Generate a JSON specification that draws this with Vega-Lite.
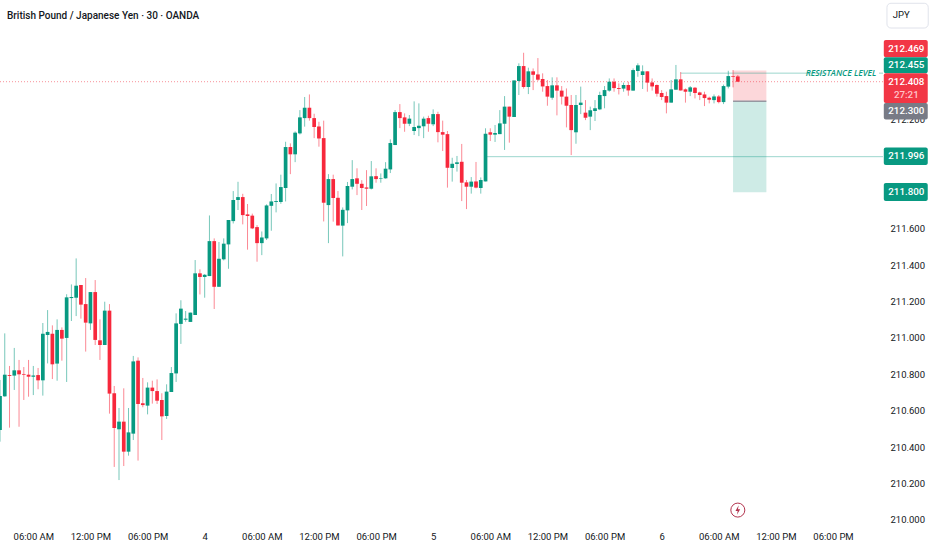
{
  "$schema": "https://vega.github.io/schema/vega-lite/v6.json",
  "width": 883,
  "height": 523,
  "padding": {"left": 0, "top": 0, "right": 49, "bottom": 27},
  "autosize": "none",
  "background": "#ffffff",
  "view": {"stroke": null},
  "datasets": {
    "candles": [
      {"t":"2026-02-03T02:30:00Z","o":210.494,"h":210.769,"l":210.430,"c":210.681},
      {"t":"2026-02-03T03:00:00Z","o":210.679,"h":211.025,"l":210.677,"c":210.798},
      {"t":"2026-02-03T03:30:00Z","o":210.796,"h":210.846,"l":210.507,"c":210.791},
      {"t":"2026-02-03T04:00:00Z","o":210.793,"h":210.945,"l":210.714,"c":210.822},
      {"t":"2026-02-03T04:30:00Z","o":210.822,"h":210.879,"l":210.512,"c":210.800},
      {"t":"2026-02-03T05:00:00Z","o":210.802,"h":210.840,"l":210.659,"c":210.798},
      {"t":"2026-02-03T05:30:00Z","o":210.798,"h":210.879,"l":210.677,"c":210.787},
      {"t":"2026-02-03T06:00:00Z","o":210.787,"h":210.846,"l":210.686,"c":210.794},
      {"t":"2026-02-03T06:30:00Z","o":210.796,"h":210.835,"l":210.718,"c":210.767},
      {"t":"2026-02-03T07:00:00Z","o":210.767,"h":211.082,"l":210.683,"c":211.023},
      {"t":"2026-02-03T07:30:00Z","o":211.016,"h":211.153,"l":210.860,"c":211.033},
      {"t":"2026-02-03T08:00:00Z","o":211.023,"h":211.069,"l":210.774,"c":210.855},
      {"t":"2026-02-03T08:30:00Z","o":210.859,"h":211.102,"l":210.765,"c":211.044},
      {"t":"2026-02-03T09:00:00Z","o":211.044,"h":211.058,"l":210.875,"c":210.996},
      {"t":"2026-02-03T09:30:00Z","o":211.000,"h":211.240,"l":210.758,"c":211.223},
      {"t":"2026-02-03T10:00:00Z","o":211.219,"h":211.294,"l":211.093,"c":211.225},
      {"t":"2026-02-03T10:30:00Z","o":211.221,"h":211.437,"l":211.120,"c":211.287},
      {"t":"2026-02-03T11:00:00Z","o":211.291,"h":211.291,"l":211.106,"c":211.183},
      {"t":"2026-02-03T11:30:00Z","o":211.186,"h":211.329,"l":210.925,"c":211.084},
      {"t":"2026-02-03T12:00:00Z","o":211.080,"h":211.252,"l":211.044,"c":211.252},
      {"t":"2026-02-03T12:30:00Z","o":211.252,"h":211.318,"l":210.961,"c":210.989},
      {"t":"2026-02-03T13:00:00Z","o":210.987,"h":211.102,"l":210.879,"c":210.961},
      {"t":"2026-02-03T13:30:00Z","o":210.961,"h":211.199,"l":210.961,"c":211.150},
      {"t":"2026-02-03T14:00:00Z","o":211.150,"h":211.186,"l":210.584,"c":210.694},
      {"t":"2026-02-03T14:30:00Z","o":210.696,"h":210.736,"l":210.291,"c":210.505},
      {"t":"2026-02-03T15:00:00Z","o":210.498,"h":210.615,"l":210.219,"c":210.540},
      {"t":"2026-02-03T15:30:00Z","o":210.540,"h":210.723,"l":210.296,"c":210.375},
      {"t":"2026-02-03T16:00:00Z","o":210.375,"h":210.615,"l":210.353,"c":210.481},
      {"t":"2026-02-03T16:30:00Z","o":210.474,"h":210.901,"l":210.439,"c":210.871},
      {"t":"2026-02-03T17:00:00Z","o":210.875,"h":210.893,"l":210.326,"c":210.637},
      {"t":"2026-02-03T17:30:00Z","o":210.641,"h":210.780,"l":210.619,"c":210.631},
      {"t":"2026-02-03T18:00:00Z","o":210.628,"h":210.756,"l":210.580,"c":210.727},
      {"t":"2026-02-03T18:30:00Z","o":210.727,"h":210.765,"l":210.639,"c":210.708},
      {"t":"2026-02-03T19:00:00Z","o":210.708,"h":210.772,"l":210.637,"c":210.655},
      {"t":"2026-02-03T19:30:00Z","o":210.659,"h":210.696,"l":210.439,"c":210.569},
      {"t":"2026-02-03T20:00:00Z","o":210.571,"h":210.745,"l":210.555,"c":210.705},
      {"t":"2026-02-03T20:30:00Z","o":210.703,"h":210.840,"l":210.703,"c":210.807},
      {"t":"2026-02-03T21:00:00Z","o":210.805,"h":211.135,"l":210.758,"c":211.080},
      {"t":"2026-02-03T21:30:00Z","o":211.077,"h":211.207,"l":210.967,"c":211.161},
      {"t":"2026-02-03T22:00:00Z","o":211.100,"h":211.148,"l":211.089,"c":211.106},
      {"t":"2026-02-03T22:30:00Z","o":211.088,"h":211.139,"l":211.088,"c":211.139},
      {"t":"2026-02-03T23:00:00Z","o":211.126,"h":211.428,"l":211.126,"c":211.355},
      {"t":"2026-02-03T23:30:00Z","o":211.355,"h":211.377,"l":211.239,"c":211.335},
      {"t":"2026-02-04T00:00:00Z","o":211.335,"h":211.351,"l":211.221,"c":211.347},
      {"t":"2026-02-04T00:30:00Z","o":211.340,"h":211.673,"l":211.340,"c":211.532},
      {"t":"2026-02-04T01:00:00Z","o":211.532,"h":211.547,"l":211.159,"c":211.281},
      {"t":"2026-02-04T01:30:00Z","o":211.281,"h":211.527,"l":211.281,"c":211.435},
      {"t":"2026-02-04T02:00:00Z","o":211.432,"h":211.547,"l":211.426,"c":211.518},
      {"t":"2026-02-04T02:30:00Z","o":211.514,"h":211.648,"l":211.380,"c":211.648},
      {"t":"2026-02-04T03:00:00Z","o":211.642,"h":211.807,"l":211.629,"c":211.758},
      {"t":"2026-02-04T03:30:00Z","o":211.758,"h":211.858,"l":211.703,"c":211.774},
      {"t":"2026-02-04T04:00:00Z","o":211.774,"h":211.792,"l":211.624,"c":211.675},
      {"t":"2026-02-04T04:30:00Z","o":211.679,"h":211.736,"l":211.485,"c":211.670},
      {"t":"2026-02-04T05:00:00Z","o":211.672,"h":211.683,"l":211.598,"c":211.602},
      {"t":"2026-02-04T05:30:00Z","o":211.609,"h":211.620,"l":211.419,"c":211.521},
      {"t":"2026-02-04T06:00:00Z","o":211.521,"h":211.585,"l":211.455,"c":211.552},
      {"t":"2026-02-04T06:30:00Z","o":211.547,"h":211.734,"l":211.538,"c":211.728},
      {"t":"2026-02-04T07:00:00Z","o":211.726,"h":211.791,"l":211.589,"c":211.750},
      {"t":"2026-02-04T07:30:00Z","o":211.747,"h":211.849,"l":211.690,"c":211.752},
      {"t":"2026-02-04T08:00:00Z","o":211.747,"h":211.897,"l":211.737,"c":211.829},
      {"t":"2026-02-04T08:30:00Z","o":211.824,"h":212.078,"l":211.750,"c":212.049},
      {"t":"2026-02-04T09:00:00Z","o":212.049,"h":212.069,"l":211.900,"c":212.009},
      {"t":"2026-02-04T09:30:00Z","o":212.009,"h":212.135,"l":211.966,"c":212.128},
      {"t":"2026-02-04T10:00:00Z","o":212.124,"h":212.252,"l":212.118,"c":212.212},
      {"t":"2026-02-04T10:30:00Z","o":212.208,"h":212.324,"l":212.161,"c":212.265},
      {"t":"2026-02-04T11:00:00Z","o":212.265,"h":212.338,"l":212.194,"c":212.208},
      {"t":"2026-02-04T11:30:00Z","o":212.208,"h":212.232,"l":212.098,"c":212.159},
      {"t":"2026-02-04T12:00:00Z","o":212.162,"h":212.188,"l":212.051,"c":212.096},
      {"t":"2026-02-04T12:30:00Z","o":212.098,"h":212.194,"l":211.640,"c":211.743},
      {"t":"2026-02-04T13:00:00Z","o":211.730,"h":211.900,"l":211.521,"c":211.873},
      {"t":"2026-02-04T13:30:00Z","o":211.873,"h":211.897,"l":211.639,"c":211.769},
      {"t":"2026-02-04T14:00:00Z","o":211.770,"h":211.807,"l":211.618,"c":211.618},
      {"t":"2026-02-04T14:30:00Z","o":211.617,"h":211.717,"l":211.448,"c":211.704},
      {"t":"2026-02-04T15:00:00Z","o":211.701,"h":211.857,"l":211.631,"c":211.835},
      {"t":"2026-02-04T15:30:00Z","o":211.831,"h":211.977,"l":211.816,"c":211.873},
      {"t":"2026-02-04T16:00:00Z","o":211.877,"h":211.932,"l":211.785,"c":211.847},
      {"t":"2026-02-04T16:30:00Z","o":211.847,"h":211.867,"l":211.703,"c":211.824},
      {"t":"2026-02-04T17:00:00Z","o":211.827,"h":211.922,"l":211.725,"c":211.820},
      {"t":"2026-02-04T17:30:00Z","o":211.820,"h":211.972,"l":211.816,"c":211.888},
      {"t":"2026-02-04T18:00:00Z","o":211.889,"h":211.932,"l":211.853,"c":211.873},
      {"t":"2026-02-04T18:30:00Z","o":211.875,"h":211.904,"l":211.853,"c":211.878},
      {"t":"2026-02-04T19:00:00Z","o":211.877,"h":211.966,"l":211.875,"c":211.930},
      {"t":"2026-02-04T19:30:00Z","o":211.926,"h":212.091,"l":211.906,"c":212.071},
      {"t":"2026-02-04T20:00:00Z","o":212.060,"h":212.252,"l":212.060,"c":212.241},
      {"t":"2026-02-04T20:30:00Z","o":212.241,"h":212.285,"l":212.153,"c":212.208},
      {"t":"2026-02-04T21:00:00Z","o":212.212,"h":212.234,"l":212.133,"c":212.177},
      {"t":"2026-02-04T21:30:00Z","o":212.177,"h":212.225,"l":212.164,"c":212.205},
      {"t":"2026-02-04T22:00:00Z","o":212.137,"h":212.300,"l":212.115,"c":212.159},
      {"t":"2026-02-04T22:30:00Z","o":212.153,"h":212.289,"l":212.109,"c":212.166},
      {"t":"2026-02-04T23:00:00Z","o":212.163,"h":212.216,"l":212.098,"c":212.205},
      {"t":"2026-02-04T23:30:00Z","o":212.208,"h":212.221,"l":212.133,"c":212.177},
      {"t":"2026-02-05T00:00:00Z","o":212.174,"h":212.256,"l":212.164,"c":212.230},
      {"t":"2026-02-05T00:30:00Z","o":212.230,"h":212.243,"l":212.075,"c":212.131},
      {"t":"2026-02-05T01:00:00Z","o":212.131,"h":212.194,"l":212.027,"c":212.117},
      {"t":"2026-02-05T01:30:00Z","o":212.120,"h":212.137,"l":211.826,"c":211.935},
      {"t":"2026-02-05T02:00:00Z","o":211.934,"h":211.990,"l":211.859,"c":211.957},
      {"t":"2026-02-05T02:30:00Z","o":211.956,"h":212.000,"l":211.914,"c":211.965},
      {"t":"2026-02-05T03:00:00Z","o":211.968,"h":212.066,"l":211.752,"c":211.853},
      {"t":"2026-02-05T03:30:00Z","o":211.855,"h":211.868,"l":211.708,"c":211.831},
      {"t":"2026-02-05T04:00:00Z","o":211.831,"h":211.884,"l":211.793,"c":211.859},
      {"t":"2026-02-05T04:30:00Z","o":211.860,"h":211.967,"l":211.822,"c":211.826},
      {"t":"2026-02-05T05:00:00Z","o":211.824,"h":211.882,"l":211.793,"c":211.868},
      {"t":"2026-02-05T05:30:00Z","o":211.860,"h":212.152,"l":211.860,"c":212.122},
      {"t":"2026-02-05T06:00:00Z","o":212.130,"h":212.152,"l":212.082,"c":212.117},
      {"t":"2026-02-05T06:30:00Z","o":212.117,"h":212.170,"l":212.077,"c":212.126},
      {"t":"2026-02-05T07:00:00Z","o":212.120,"h":212.252,"l":212.120,"c":212.179},
      {"t":"2026-02-05T07:30:00Z","o":212.177,"h":212.329,"l":212.033,"c":212.271},
      {"t":"2026-02-05T08:00:00Z","o":212.271,"h":212.271,"l":212.073,"c":212.216},
      {"t":"2026-02-05T08:30:00Z","o":212.214,"h":212.415,"l":212.214,"c":212.415},
      {"t":"2026-02-05T09:00:00Z","o":212.412,"h":212.509,"l":212.335,"c":212.494},
      {"t":"2026-02-05T09:30:00Z","o":212.494,"h":212.567,"l":212.370,"c":212.379},
      {"t":"2026-02-05T10:00:00Z","o":212.379,"h":212.485,"l":212.340,"c":212.465},
      {"t":"2026-02-05T10:30:00Z","o":212.465,"h":212.481,"l":212.362,"c":212.446},
      {"t":"2026-02-05T11:00:00Z","o":212.448,"h":212.538,"l":212.412,"c":212.419},
      {"t":"2026-02-05T11:30:00Z","o":212.423,"h":212.454,"l":212.353,"c":212.382},
      {"t":"2026-02-05T12:00:00Z","o":212.384,"h":212.417,"l":212.276,"c":212.326},
      {"t":"2026-02-05T12:30:00Z","o":212.320,"h":212.432,"l":212.309,"c":212.388},
      {"t":"2026-02-05T13:00:00Z","o":212.388,"h":212.432,"l":212.223,"c":212.359},
      {"t":"2026-02-05T13:30:00Z","o":212.359,"h":212.384,"l":212.283,"c":212.326},
      {"t":"2026-02-05T14:00:00Z","o":212.326,"h":212.371,"l":212.157,"c":212.276},
      {"t":"2026-02-05T14:30:00Z","o":212.280,"h":212.335,"l":212.005,"c":212.142},
      {"t":"2026-02-05T15:00:00Z","o":212.130,"h":212.335,"l":212.067,"c":212.280},
      {"t":"2026-02-05T15:30:00Z","o":212.280,"h":212.381,"l":212.230,"c":212.293},
      {"t":"2026-02-05T16:00:00Z","o":212.238,"h":212.307,"l":212.197,"c":212.210},
      {"t":"2026-02-05T16:30:00Z","o":212.216,"h":212.271,"l":212.142,"c":212.251},
      {"t":"2026-02-05T17:00:00Z","o":212.247,"h":212.307,"l":212.192,"c":212.262},
      {"t":"2026-02-05T17:30:00Z","o":212.256,"h":212.353,"l":212.252,"c":212.335},
      {"t":"2026-02-05T18:00:00Z","o":212.329,"h":212.384,"l":212.262,"c":212.362},
      {"t":"2026-02-05T18:30:00Z","o":212.359,"h":212.426,"l":212.353,"c":212.408},
      {"t":"2026-02-05T19:00:00Z","o":212.408,"h":212.426,"l":212.353,"c":212.373},
      {"t":"2026-02-05T19:30:00Z","o":212.373,"h":212.399,"l":212.338,"c":212.368},
      {"t":"2026-02-05T20:00:00Z","o":212.370,"h":212.403,"l":212.353,"c":212.390},
      {"t":"2026-02-05T20:30:00Z","o":212.390,"h":212.408,"l":212.331,"c":212.360},
      {"t":"2026-02-05T21:00:00Z","o":212.359,"h":212.481,"l":212.359,"c":212.472},
      {"t":"2026-02-05T21:30:00Z","o":212.467,"h":212.509,"l":212.435,"c":212.498},
      {"t":"2026-02-05T22:00:00Z","o":212.445,"h":212.498,"l":212.368,"c":212.465},
      {"t":"2026-02-05T22:30:00Z","o":212.465,"h":212.465,"l":212.353,"c":212.403},
      {"t":"2026-02-05T23:00:00Z","o":212.404,"h":212.426,"l":212.359,"c":212.382},
      {"t":"2026-02-05T23:30:00Z","o":212.390,"h":212.393,"l":212.326,"c":212.342},
      {"t":"2026-02-06T00:00:00Z","o":212.346,"h":212.362,"l":212.307,"c":212.324},
      {"t":"2026-02-06T00:30:00Z","o":212.329,"h":212.353,"l":212.234,"c":212.293},
      {"t":"2026-02-06T01:00:00Z","o":212.293,"h":212.417,"l":212.293,"c":212.366},
      {"t":"2026-02-06T01:30:00Z","o":212.364,"h":212.500,"l":212.364,"c":212.421},
      {"t":"2026-02-06T02:00:00Z","o":212.421,"h":212.461,"l":212.359,"c":212.360},
      {"t":"2026-02-06T02:30:00Z","o":212.366,"h":212.371,"l":212.293,"c":212.353},
      {"t":"2026-02-06T03:00:00Z","o":212.353,"h":212.384,"l":212.329,"c":212.377},
      {"t":"2026-02-06T03:30:00Z","o":212.375,"h":212.379,"l":212.316,"c":212.346},
      {"t":"2026-02-06T04:00:00Z","o":212.349,"h":212.353,"l":212.307,"c":212.335},
      {"t":"2026-02-06T04:30:00Z","o":212.338,"h":212.353,"l":212.274,"c":212.318},
      {"t":"2026-02-06T05:00:00Z","o":212.320,"h":212.326,"l":212.289,"c":212.309},
      {"t":"2026-02-06T05:30:00Z","o":212.307,"h":212.338,"l":212.289,"c":212.327},
      {"t":"2026-02-06T06:00:00Z","o":212.327,"h":212.335,"l":212.289,"c":212.296},
      {"t":"2026-02-06T06:30:00Z","o":212.296,"h":212.392,"l":212.285,"c":212.384},
      {"t":"2026-02-06T07:00:00Z","o":212.381,"h":212.468,"l":212.371,"c":212.439},
      {"t":"2026-02-06T07:30:00Z","o":212.439,"h":212.472,"l":212.377,"c":212.435},
      {"t":"2026-02-06T08:00:00Z","o":212.437,"h":212.445,"l":212.408,"c":212.408}
    ],
    "levels": [
      {"name":"last","from":"2026-02-03T02:30:00Z","to":"2026-02-06T23:15:00Z","price":212.408},
      {"name":"support","from":"2026-02-05T05:30:00Z","to":"2026-02-06T23:15:00Z","price":211.996},
      {"name":"resistance","from":"2026-02-06T02:00:00Z","to":"2026-02-06T17:20:00Z","price":212.455},
      {"name":"resistance","from":"2026-02-06T22:50:00Z","to":"2026-02-06T23:15:00Z","price":212.455}
    ],
    "position": [
      {"side":"stop","from":"2026-02-06T07:30:00Z","to":"2026-02-06T11:00:00Z","top":212.469,"bottom":212.3},
      {"side":"target","from":"2026-02-06T07:30:00Z","to":"2026-02-06T11:00:00Z","top":212.3,"bottom":211.8}
    ],
    "tags": [
      {"kind":"sell","top":212.637,"bottom":212.542},
      {"kind":"buy","top":212.542,"bottom":212.455},
      {"kind":"sell","top":212.455,"bottom":212.291},
      {"kind":"neutral","top":212.291,"bottom":212.2},
      {"kind":"buy","top":212.046,"bottom":211.95},
      {"kind":"buy","top":211.851,"bottom":211.752}
    ],
    "tagtexts": [
      {"label":"212.469","price":212.59},
      {"label":"212.455","price":212.499},
      {"label":"212.408","price":212.409},
      {"label":"27:21","price":212.335},
      {"label":"212.300","price":212.247},
      {"label":"211.996","price":211.999},
      {"label":"211.800","price":211.802}
    ]
  },
  "layer": [
    {
      "data": {"name": "position"},
      "mark": {"type": "rect", "opacity": 0.2},
      "encoding": {
        "x": {"field": "from", "type": "temporal", "title": null},
        "x2": {"field": "to"},
        "y": {"field": "top", "type": "quantitative", "title": null},
        "y2": {"field": "bottom"},
        "color": {
          "field": "side",
          "type": "nominal",
          "scale": {"domain": ["stop", "target", "sell", "buy", "neutral"], "range": ["#f23645", "#089981", "#f23645", "#089981", "#787b86"]},
          "legend": null
        }
      }
    },
    {
      "data": {"values": [{"from":"2026-02-06T07:30:00Z","to":"2026-02-06T11:00:00Z","price":212.3}]},
      "mark": {"type": "rule", "color": "#9598a1", "strokeWidth": 1.5},
      "encoding": {
        "x": {"field": "from", "type": "temporal", "title": null},
        "x2": {"field": "to"},
        "y": {"field": "price", "type": "quantitative", "title": null}
      }
    },
    {
      "data": {"name": "levels"},
      "transform": [{"filter": "datum.name == 'last'"}],
      "mark": {"type": "rule", "color": "#f23645", "opacity": 0.55, "strokeWidth": 1, "strokeDash": [1, 2]},
      "encoding": {
        "x": {"field": "from", "type": "temporal", "title": null},
        "x2": {"field": "to"},
        "y": {"field": "price", "type": "quantitative", "title": null}
      }
    },
    {
      "data": {"name": "levels"},
      "transform": [{"filter": "datum.name != 'last'"}],
      "mark": {"type": "rule", "color": "#089981", "opacity": 0.4, "strokeWidth": 1},
      "encoding": {
        "x": {"field": "from", "type": "temporal", "title": null},
        "x2": {"field": "to"},
        "y": {"field": "price", "type": "quantitative", "title": null}
      }
    },
    {
      "data": {"name": "candles"},
      "mark": {"type": "rule", "strokeWidth": 1, "opacity": 0.55},
      "encoding": {
        "x": {
          "field": "t",
          "type": "temporal",
          "title": null,
          "scale": {"type": "utc", "domain": ["2026-02-03T02:30:00Z", "2026-02-06T23:15:00Z"], "nice": false, "padding": 0},
          "axis": {
            "values": [
              {"year":2026,"month":2,"date":3,"hours":6,"utc":true},
              {"year":2026,"month":2,"date":3,"hours":12,"utc":true},
              {"year":2026,"month":2,"date":3,"hours":18,"utc":true},
              {"year":2026,"month":2,"date":4,"hours":0,"utc":true},
              {"year":2026,"month":2,"date":4,"hours":6,"utc":true},
              {"year":2026,"month":2,"date":4,"hours":12,"utc":true},
              {"year":2026,"month":2,"date":4,"hours":18,"utc":true},
              {"year":2026,"month":2,"date":5,"hours":0,"utc":true},
              {"year":2026,"month":2,"date":5,"hours":6,"utc":true},
              {"year":2026,"month":2,"date":5,"hours":12,"utc":true},
              {"year":2026,"month":2,"date":5,"hours":18,"utc":true},
              {"year":2026,"month":2,"date":6,"hours":0,"utc":true},
              {"year":2026,"month":2,"date":6,"hours":6,"utc":true},
              {"year":2026,"month":2,"date":6,"hours":12,"utc":true},
              {"year":2026,"month":2,"date":6,"hours":18,"utc":true}
            ],
            "labelExpr": "utchours(datum.value) == 0 ? utcdate(datum.value) : utcFormat(datum.value, '%I:%M %p')",
            "labelOverlap": false,
            "labelFlush": false,
            "domain": false,
            "ticks": false,
            "grid": false,
            "labelFont": "Roboto",
            "labelFontSize": 9.5,
            "labelColor": "#131722",
            "labelPadding": 8
          }
        },
        "y": {
          "field": "h",
          "type": "quantitative",
          "title": null,
          "scale": {"domain": [209.983, 212.857], "nice": false, "zero": false},
          "axis": {
            "orient": "right",
            "values": [210, 210.2, 210.4, 210.6, 210.8, 211, 211.2, 211.4, 211.6, 212.2],
            "format": ".3f",
            "labelOverlap": false,
            "labelFlush": false,
            "domain": false,
            "ticks": false,
            "grid": false,
            "labelFont": "Roboto",
            "labelFontSize": 9.5,
            "labelColor": "#131722",
            "labelPadding": 7
          }
        },
        "y2": {"field": "l"},
        "color": {"condition": {"test": "datum.c >= datum.o", "value": "#089981"}, "value": "#f7283c"}
      }
    },
    {
      "data": {"name": "candles"},
      "mark": {"type": "bar", "size": 3.7},
      "encoding": {
        "x": {"field": "t", "type": "temporal", "title": null},
        "y": {"field": "o", "type": "quantitative", "title": null},
        "y2": {"field": "c"},
        "color": {"condition": {"test": "datum.c >= datum.o", "value": "#089981"}, "value": "#f7283c"}
      }
    },
    {
      "data": {"values": [{"label":"RESISTANCE LEVEL","t":"2026-02-06T18:50:00Z","price":212.455}]},
      "mark": {"type": "text", "font": "Open Sans", "fontSize": 8.5, "fontStyle": "italic", "fontWeight": 600, "color": "#089981", "align": "center", "baseline": "middle"},
      "encoding": {
        "x": {"field": "t", "type": "temporal", "title": null},
        "y": {"field": "price", "type": "quantitative", "title": null},
        "text": {"field": "label"}
      }
    },
    {
      "data": {"values": [{"label":"British Pound / Japanese Yen · 30 · OANDA","t":"2026-02-03T03:14:00Z","price":212.769}]},
      "mark": {"type": "text", "font": "Roboto", "fontSize": 10, "fontWeight": 500, "color": "#131722", "align": "left", "baseline": "middle"},
      "encoding": {
        "x": {"field": "t", "type": "temporal", "title": null},
        "y": {"field": "price", "type": "quantitative", "title": null},
        "text": {"field": "label"}
      }
    },
    {
      "data": {"values": [{"from":"2026-02-06T23:15:00Z","to":"2026-02-07T04:20:00Z","top":209.983,"bottom":209.88}]},
      "mark": {"type": "rect", "color": "#ffffff"},
      "encoding": {
        "x": {"field": "from", "type": "temporal", "title": null},
        "x2": {"field": "to"},
        "y": {"field": "top", "type": "quantitative", "title": null},
        "y2": {"field": "bottom"}
      }
    },
    {
      "data": {"name": "tags"},
      "mark": {"type": "rect", "cornerRadius": 2},
      "encoding": {
        "x": {"datum": {"year": 2026, "month": 2, "date": 6, "hours": 23, "minutes": 20, "utc": true}, "type": "temporal", "title": null},
        "x2": {"datum": {"year": 2026, "month": 2, "date": 7, "hours": 3, "minutes": 57, "utc": true}},
        "y": {"field": "top", "type": "quantitative", "title": null},
        "y2": {"field": "bottom"},
        "color": {
          "field": "kind",
          "type": "nominal",
          "scale": {"domain": ["stop", "target", "sell", "buy", "neutral"], "range": ["#f23645", "#089981", "#f23645", "#089981", "#787b86"]},
          "legend": null
        }
      }
    },
    {
      "data": {"name": "tagtexts"},
      "mark": {"type": "text", "font": "Roboto", "fontSize": 9.8, "fontWeight": 500, "align": "center", "baseline": "middle"},
      "encoding": {
        "x": {"datum": {"year": 2026, "month": 2, "date": 7, "hours": 1, "minutes": 42, "utc": true}, "type": "temporal", "title": null},
        "y": {"field": "price", "type": "quantitative", "title": null},
        "text": {"field": "label"},
        "color": {"condition": {"test": "datum.label == '27:21'", "value": "#ffc4c9"}, "value": "#ffffff"}
      }
    },
    {
      "data": {"values": [{"from":"2026-02-06T23:40:00Z","to":"2026-02-07T04:00:00Z","top":212.839,"bottom":212.703}]},
      "mark": {"type": "rect", "fill": "#ffffff", "stroke": "#e0e3eb", "strokeWidth": 1, "cornerRadius": 4},
      "encoding": {
        "x": {"field": "from", "type": "temporal", "title": null},
        "x2": {"field": "to"},
        "y": {"field": "top", "type": "quantitative", "title": null},
        "y2": {"field": "bottom"}
      }
    },
    {
      "data": {"values": [{"label":"JPY","t":"2026-02-07T01:10:00Z","price":212.772}]},
      "mark": {"type": "text", "font": "Roboto", "fontSize": 9.5, "color": "#131722", "align": "center", "baseline": "middle"},
      "encoding": {
        "x": {"field": "t", "type": "temporal", "title": null},
        "y": {"field": "price", "type": "quantitative", "title": null},
        "text": {"field": "label"}
      }
    },
    {
      "data": {"values": [{"t":"2026-02-06T08:00:00Z","price":210.054}]},
      "mark": {"type": "point", "shape": "circle", "size": 196, "filled": false, "color": "#b2334d", "strokeWidth": 1, "opacity": 1},
      "encoding": {
        "x": {"field": "t", "type": "temporal", "title": null},
        "y": {"field": "price", "type": "quantitative", "title": null}
      }
    },
    {
      "data": {"values": [{"t":"2026-02-06T08:00:00Z","price":210.054}]},
      "mark": {"type": "point", "shape": "M 0.15 -0.8 L -0.4 0.15 L -0.02 0.15 L -0.15 0.8 L 0.4 -0.15 L 0.02 -0.15 Z", "size": 140, "filled": true, "color": "#b2334d", "opacity": 1},
      "encoding": {
        "x": {"field": "t", "type": "temporal", "title": null},
        "y": {"field": "price", "type": "quantitative", "title": null}
      }
    }
  ]
}
